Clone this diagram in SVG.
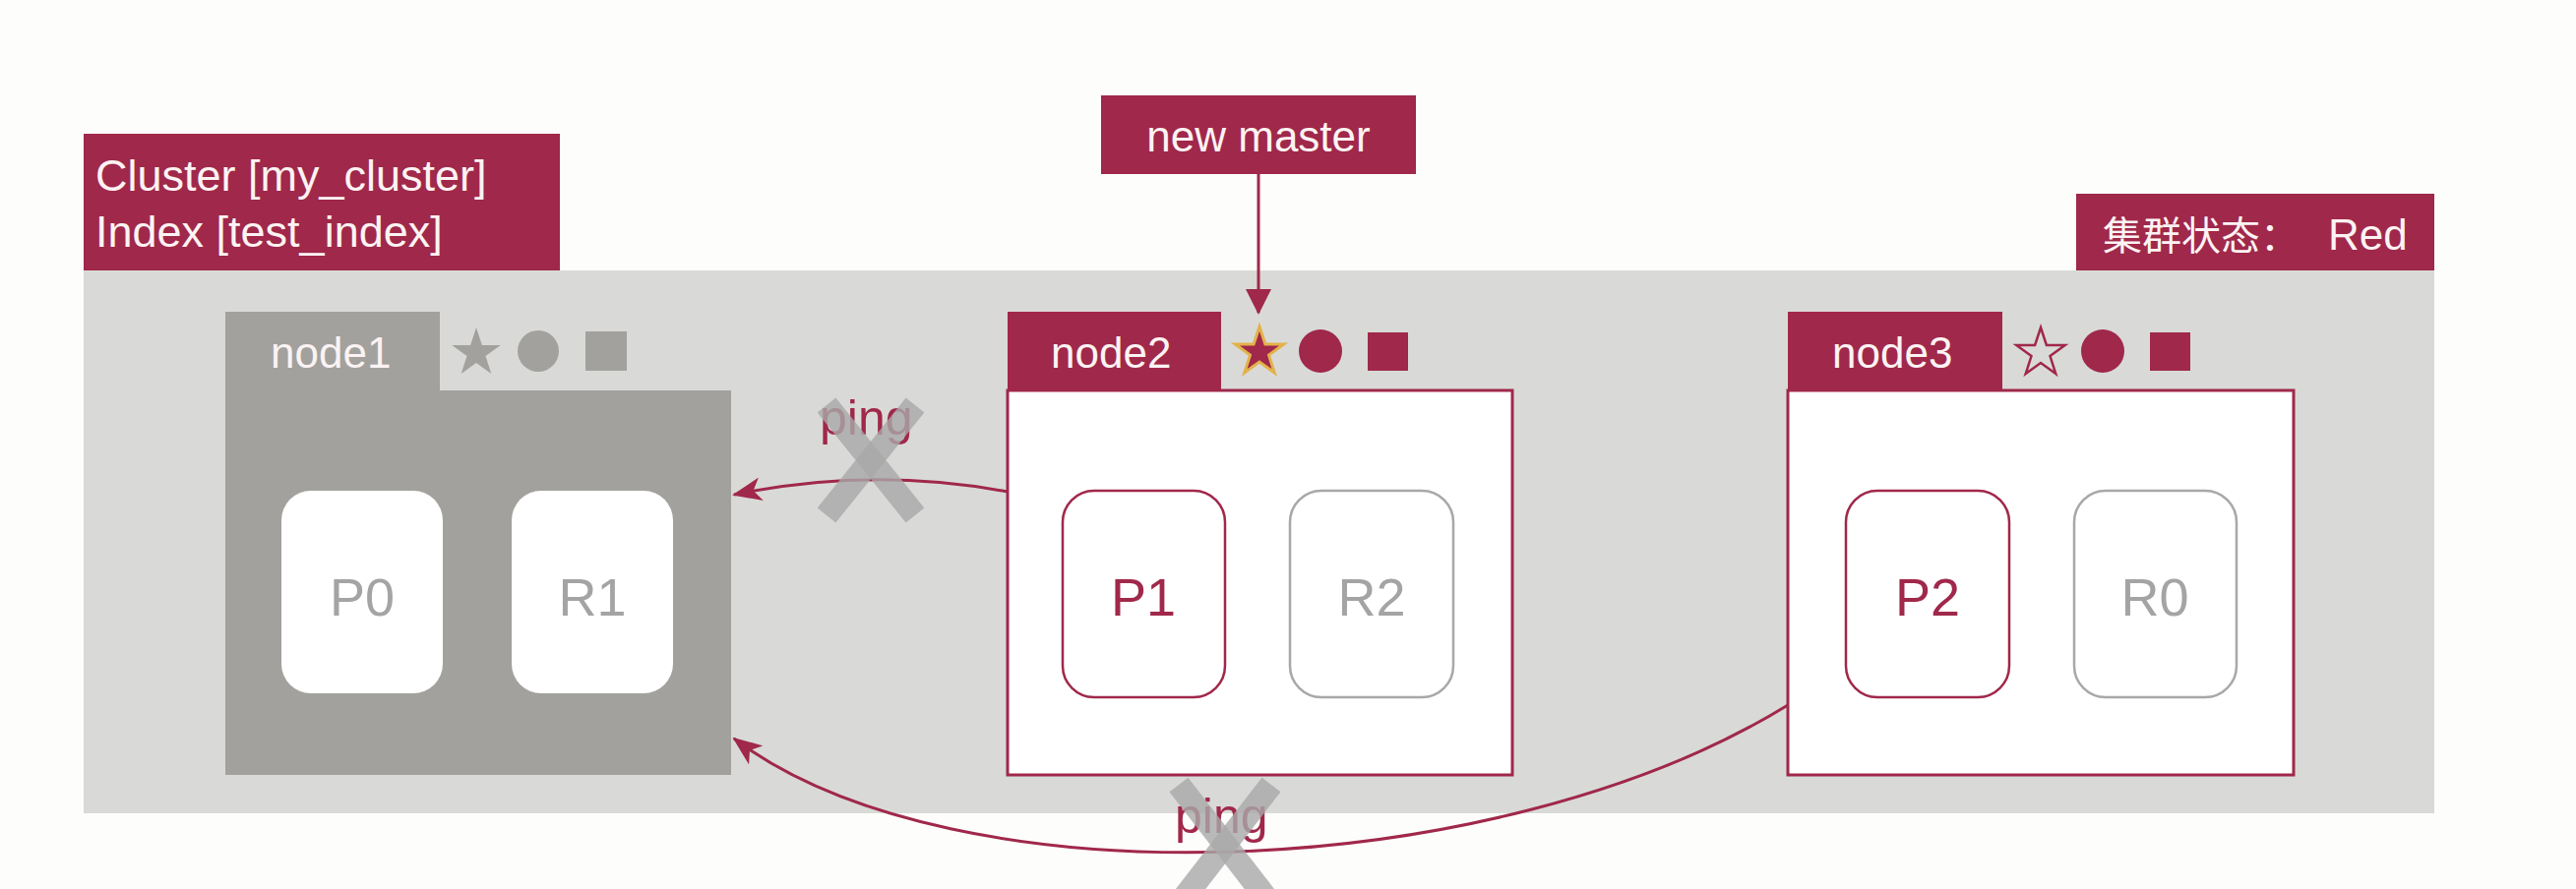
<svg xmlns="http://www.w3.org/2000/svg" width="2618" height="904" viewBox="0 0 2618 904">
<style>
.red{fill:#a0284a}
.lbl{font-family:"Liberation Sans","Noto Sans CJK SC",sans-serif;fill:#fbf3f3}
.shard{font-family:"Liberation Sans",sans-serif;font-size:54px;text-anchor:middle}
.ping{font-family:"Liberation Sans",sans-serif;font-size:50px;fill:#a0284a}
.pr{fill:#fff;stroke:#a0284a;stroke-width:2.5}
.rr{fill:#fff;stroke:#a8a8a8;stroke-width:2.5}
.conn{fill:none;stroke:#a0284a;stroke-width:3}
.xm{stroke:#a9a9a9;stroke-width:24;stroke-linecap:butt;opacity:0.8}
</style>
<defs>
<path id="star" d="M0,-26 L5.88,-8.09 L24.73,-8.03 L9.51,3.09 L15.28,21.03 L0,10 L-15.28,21.03 L-9.51,3.09 L-24.73,-8.03 L-5.88,-8.09 Z"/>
<marker id="ah" markerUnits="userSpaceOnUse" markerWidth="30" markerHeight="24" viewBox="0 0 30 24" refX="28" refY="12" orient="auto">
<path d="M0,0 L30,12 L0,24 L8,12 Z" fill="#a0284a"/>
</marker>
<marker id="ah2" markerUnits="userSpaceOnUse" markerWidth="26" markerHeight="26" viewBox="0 0 26 26" refX="24" refY="13" orient="auto">
<path d="M0,0 L26,13 L0,26 Z" fill="#a0284a"/>
</marker>
</defs>
<rect width="2618" height="904" fill="#fdfdfc"/>

<g id="cluster">
<rect x="85" y="275" width="2389" height="552" fill="#d9dad8"/>
</g>

<g id="cluster-label">
<rect x="85" y="136" width="484" height="139" class="red"/>
<text class="lbl" x="97" y="194" font-size="45">Cluster [my_cluster]</text>
<text class="lbl" x="97" y="251" font-size="45">Index [test_index]</text>
</g>

<g id="status-label">
<rect x="2110" y="197" width="364" height="78" class="red"/>
<text class="lbl" x="2137" y="254" font-size="40">集群状态：</text>
<text class="lbl" x="2366" y="254" font-size="44">Red</text>
</g>

<g id="new-master">
<rect x="1119" y="97" width="320" height="80" class="red"/>
<text class="lbl" x="1279" y="154" font-size="44" text-anchor="middle">new master</text>
</g>

<g id="node1">
<path d="M229,317 H447 V397 H743 V788 H229 Z" fill="#a2a19d"/>
<text class="lbl" x="275" y="374" font-size="44">node1</text>
<use href="#star" transform="translate(484,359)" fill="#a2a19d"/>
<ellipse cx="547" cy="357" rx="21" ry="21" fill="#a2a19d"/>
<rect x="595" y="337" width="42" height="40" fill="#a2a19d"/>
<rect x="286" y="499" width="164" height="206" rx="30" fill="#fff"/>
<text class="shard" x="368" y="626" fill="#a4a4a4">P0</text>
<rect x="520" y="499" width="164" height="206" rx="30" fill="#fff"/>
<text class="shard" x="602" y="626" fill="#a4a4a4">R1</text>
</g>

<g id="node2">
<rect x="1024" y="397" width="513" height="391" fill="#fff" stroke="#a0284a" stroke-width="3"/>
<rect x="1024" y="317" width="217" height="80" class="red"/>
<text class="lbl" x="1068" y="374" font-size="44">node2</text>
<use href="#star" transform="translate(1280,358)" fill="#a0284a" stroke="#e3b24a" stroke-width="3"/>
<ellipse cx="1342" cy="357" rx="22" ry="22" class="red"/>
<rect x="1390" y="338" width="41" height="39" class="red"/>
<rect x="1080" y="499" width="165" height="210" rx="32" class="pr"/>
<text class="shard" x="1162" y="626" fill="#a0284a">P1</text>
<rect x="1311" y="499" width="166" height="210" rx="32" class="rr"/>
<text class="shard" x="1394" y="626" fill="#a4a4a4">R2</text>
</g>

<g id="node3">
<rect x="1817" y="397" width="514" height="391" fill="#fff" stroke="#a0284a" stroke-width="3"/>
<rect x="1817" y="317" width="218" height="80" class="red"/>
<text class="lbl" x="1862" y="374" font-size="44">node3</text>
<use href="#star" transform="translate(2074,359)" fill="none" stroke="#a0284a" stroke-width="2.5"/>
<ellipse cx="2137" cy="357" rx="22" ry="22" class="red"/>
<rect x="2185" y="338" width="41" height="39" class="red"/>
<rect x="1876" y="499" width="166" height="210" rx="32" class="pr"/>
<text class="shard" x="1959" y="626" fill="#a0284a">P2</text>
<rect x="2108" y="499" width="165" height="210" rx="32" class="rr"/>
<text class="shard" x="2190" y="626" fill="#a4a4a4">R0</text>
</g>

<g id="connectors">
<line x1="1279" y1="177" x2="1279" y2="318" class="conn" stroke-width="4" marker-end="url(#ah2)"/>
<path d="M1024,500 Q885,474 746,503" class="conn" marker-end="url(#ah)"/>
<text class="ping" x="833" y="442">ping</text>
<line x1="840" y1="412" x2="930" y2="524" class="xm"/>
<line x1="930" y1="412" x2="840" y2="524" class="xm"/>
<path d="M1817,717 C1520,900 970,920 746,751" class="conn" marker-end="url(#ah)"/>
<text class="ping" x="1194" y="847">ping</text>
<line x1="1198" y1="798" x2="1300" y2="930" class="xm"/>
<line x1="1292" y1="798" x2="1190" y2="930" class="xm"/>
</g>
</svg>
